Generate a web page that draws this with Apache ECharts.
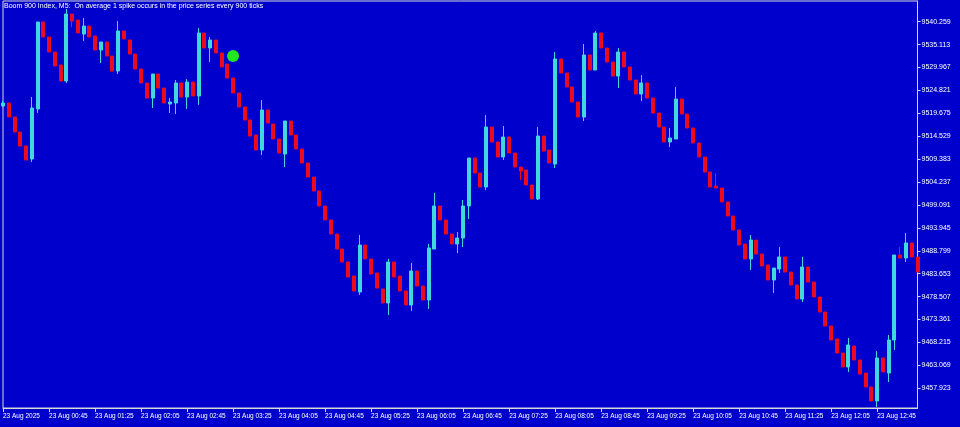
<!DOCTYPE html>
<html>
<head>
<meta charset="utf-8">
<script src="https://cdn.jsdelivr.net/npm/echarts@6/dist/echarts.min.js"></script>
<style>html,body{margin:0;padding:0;background:#0000CD;}#c{width:960px;height:427px;}</style>
</head>
<body>
<div id="c"></div>
<script>
const title = 'Boom 900 Index, M5:  On average 1 spike occurs in the price series every 900 ticks';
const xTickLabels = ['23 Aug 2025','23 Aug 00:45','23 Aug 01:25','23 Aug 02:05','23 Aug 02:45','23 Aug 03:25','23 Aug 04:05','23 Aug 04:45','23 Aug 05:25','23 Aug 06:05','23 Aug 06:45','23 Aug 07:25','23 Aug 08:05','23 Aug 08:45','23 Aug 09:25','23 Aug 10:05','23 Aug 10:45','23 Aug 11:25','23 Aug 12:05','23 Aug 12:45'];
const priceTicks = [9540.259,9535.113,9529.967,9524.821,9519.675,9514.529,9509.383,9504.237,9499.091,9493.945,9488.799,9483.653,9478.507,9473.361,9468.215,9463.069,9457.923];

const opens = [
9521.32,9522.00,9518.85,9515.48,9512.34,9509.42,9520.65,9540.19,9536.82,9533.45,
9530.53,9526.94,9541.99,9540.64,9537.49,9539.29,9537.04,9533.90,9535.70,9532.55,
9529.18,9538.17,9536.15,9533.00,9529.63,9526.49,9523.12,9528.51,9525.36,9521.77,
9522.00,9526.49,9523.34,9526.71,9523.57,9537.72,9534.35,9536.15,9533.23,9530.75,
9527.61,9524.24,9521.10,9518.18,9514.81,9511.44,9520.42,9517.28,9513.91,9510.54,
9517.95,9514.81,9511.66,9508.52,9505.37,9502.23,9498.86,9495.72,9492.57,9489.20,
9486.28,9483.14,9479.54,9490.10,9486.96,9483.81,9480.22,9477.07,9486.28,9483.14,
9479.77,9476.62,9484.26,9480.89,9477.75,9489.20,9498.86,9495.72,9492.57,9490.33,
9491.67,9498.86,9509.64,9506.27,9503.13,9516.60,9513.24,9509.87,9514.36,9510.76,
9507.62,9506.95,9503.58,9500.43,9514.58,9511.44,9508.29,9531.88,9528.73,9525.59,
9522.22,9518.85,9532.78,9529.41,9537.72,9534.35,9531.20,9528.06,9533.45,9530.08,
9527.16,9524.02,9526.49,9523.12,9519.75,9516.60,9513.24,9513.91,9522.89,9519.52,
9516.38,9513.01,9509.87,9506.50,9503.35,9502.90,9499.76,9496.61,9493.47,9490.33,
9486.96,9491.22,9488.08,9485.61,9482.24,9484.71,9487.41,9484.04,9481.12,9477.97,
9485.16,9481.79,9478.42,9475.05,9471.91,9468.99,9465.84,9462.70,9467.41,9464.27,
9461.35,9458.21,9455.06,9464.72,9461.35,9468.76,9487.85,9487.18,9490.55,9487.41];

const closes = [
9522.00,9518.85,9515.48,9512.34,9509.19,9520.87,9540.19,9536.82,9533.45,9530.31,
9526.94,9541.99,9540.41,9537.72,9539.29,9536.82,9533.90,9535.70,9532.55,9529.18,
9538.17,9536.37,9533.00,9529.63,9526.49,9523.12,9528.51,9525.36,9522.00,9522.22,
9526.49,9523.34,9526.71,9523.57,9537.72,9534.35,9536.15,9533.23,9530.08,9527.61,
9524.24,9521.10,9518.18,9514.58,9511.44,9520.42,9517.50,9513.91,9510.76,9517.95,
9514.81,9511.66,9508.52,9505.37,9502.23,9498.86,9495.72,9492.57,9489.20,9486.28,
9482.91,9479.77,9490.10,9486.96,9483.59,9480.44,9477.07,9486.28,9482.91,9479.77,
9476.62,9484.26,9480.89,9477.75,9489.43,9498.86,9495.72,9492.57,9490.33,9491.67,
9498.86,9509.64,9506.27,9503.13,9516.60,9513.24,9509.87,9514.36,9510.76,9507.62,
9506.72,9503.58,9500.43,9514.58,9511.21,9508.52,9531.88,9528.73,9525.59,9522.22,
9518.85,9532.78,9529.41,9537.72,9534.35,9531.20,9528.06,9533.45,9530.08,9527.16,
9524.02,9526.49,9523.12,9519.75,9516.60,9513.24,9514.13,9522.89,9519.52,9516.38,
9513.01,9509.87,9506.50,9503.13,9502.90,9499.76,9496.61,9493.47,9490.10,9486.96,
9491.22,9488.08,9485.38,9482.24,9484.93,9487.41,9484.04,9481.12,9477.97,9485.16,
9481.79,9478.42,9475.05,9471.91,9468.76,9465.84,9462.70,9467.64,9464.27,9461.13,
9458.21,9455.06,9464.72,9461.58,9468.76,9487.85,9487.18,9490.55,9487.41,9484.04];

const highs = [
9522.44,9522.00,9518.85,9515.48,9512.34,9523.34,9540.19,9540.19,9536.82,9533.45,
9530.53,9543.11,9541.99,9540.64,9541.09,9539.29,9537.04,9535.70,9535.70,9532.55,
9540.41,9538.17,9536.15,9533.00,9529.63,9526.49,9528.51,9528.51,9525.36,9523.12,
9527.16,9526.49,9527.39,9526.71,9538.84,9537.72,9536.82,9536.15,9533.23,9530.75,
9527.61,9524.24,9521.10,9518.18,9514.81,9522.67,9520.42,9517.28,9513.91,9517.95,
9517.95,9514.81,9511.66,9508.52,9505.37,9502.23,9498.86,9495.72,9492.57,9489.20,
9486.28,9483.14,9492.35,9490.10,9486.96,9483.81,9480.22,9486.96,9486.28,9483.14,
9479.77,9486.06,9484.26,9480.89,9490.33,9501.78,9498.86,9495.72,9492.57,9493.02,
9500.21,9509.64,9509.64,9506.27,9519.30,9516.60,9513.24,9516.83,9514.36,9510.76,
9507.62,9506.95,9503.58,9516.60,9514.58,9511.44,9533.45,9531.88,9528.73,9525.59,
9522.22,9535.25,9532.78,9538.17,9537.72,9534.35,9531.20,9534.35,9533.45,9530.08,
9527.16,9528.28,9526.49,9523.12,9519.75,9516.60,9516.38,9525.59,9522.89,9519.52,
9516.38,9513.01,9509.87,9506.50,9506.27,9502.90,9499.76,9496.61,9493.47,9490.33,
9492.35,9491.22,9488.08,9485.61,9484.93,9489.65,9487.41,9484.04,9481.12,9487.41,
9485.16,9481.79,9478.42,9475.05,9471.91,9468.99,9465.84,9469.21,9467.41,9464.27,
9461.35,9458.21,9466.29,9464.72,9469.89,9487.85,9489.65,9492.80,9490.55,9487.41];

const lows = [
9521.10,9518.85,9515.48,9512.34,9509.19,9508.74,9519.75,9536.82,9533.45,9530.31,
9526.94,9526.49,9539.07,9537.72,9535.92,9536.82,9533.90,9530.98,9532.55,9529.18,
9528.51,9536.37,9533.00,9529.63,9526.49,9523.12,9520.87,9525.36,9522.00,9519.75,
9519.52,9523.34,9520.65,9523.57,9521.55,9534.35,9531.20,9533.23,9530.08,9527.61,
9524.24,9521.10,9518.18,9514.58,9511.44,9510.32,9517.50,9513.91,9510.76,9507.62,
9514.81,9511.66,9508.52,9505.37,9502.23,9498.86,9495.72,9492.57,9489.20,9486.28,
9482.91,9479.77,9478.87,9486.96,9483.59,9480.44,9477.07,9474.38,9482.91,9479.77,
9476.62,9475.28,9480.89,9477.75,9475.73,9489.20,9495.72,9492.57,9490.33,9488.30,
9489.65,9495.94,9506.27,9503.13,9502.45,9513.24,9509.87,9509.19,9510.76,9507.62,
9504.70,9503.58,9500.43,9500.21,9511.21,9508.52,9507.40,9528.73,9525.59,9522.22,
9518.85,9517.95,9529.41,9529.41,9534.35,9531.20,9528.06,9525.36,9530.08,9527.16,
9524.02,9522.44,9523.12,9519.75,9516.60,9513.24,9512.11,9513.91,9519.52,9516.38,
9513.01,9509.87,9506.50,9503.13,9502.90,9499.76,9496.61,9493.47,9490.10,9486.96,
9484.49,9488.08,9485.38,9482.24,9479.32,9483.81,9484.04,9481.12,9477.97,9477.30,
9481.79,9478.42,9475.05,9471.91,9468.76,9465.84,9462.70,9461.58,9464.27,9461.13,
9458.21,9455.06,9453.71,9461.58,9459.33,9466.52,9487.18,9486.28,9487.41,9484.04];

// spike signal marker (bar index, price)
const signalIndex = [40];
const signalPrice = [9532.55];

// categories: 5-minute bars starting 00:05
const categories = opens.map((_, i) => {
  const m = 5 + 5 * i;
  const hh = String(Math.floor(m / 60)).padStart(2, '0');
  const mm = String(m % 60).padStart(2, '0');
  return '23 Aug ' + hh + ':' + mm;
});
const ohlc = opens.map((o, i) => [o, closes[i], lows[i], highs[i]]);

const BG = '#0000CD', BULL = '#40D8DC', BEAR = '#EC0A1E', FG = '#FFFFFF';
const chart = echarts.init(document.getElementById('c'), null, {renderer: 'canvas'});
chart.setOption({
  backgroundColor: BG,
  animation: false,
  grid: {left: 1.5, right: 42.5, top: 1, bottom: 19, show: true, borderColor: '#D8D8D8', borderWidth: 1, backgroundColor: 'transparent'},
  xAxis: {
    type: 'category', data: categories, boundaryGap: false,
    axisLine: {show: true, lineStyle: {color: '#D8D8D8', width: 1}},
    axisTick: {show: true, interval: 7, length: 4, lineStyle: {color: '#D8D8D8'}},
    axisLabel: {interval: 7, align: 'left', margin: 5, color: FG, fontSize: 6.5, fontFamily: 'Liberation Sans',
      formatter: (v, idx) => xTickLabels[Math.round(idx / 8)] || ''},
    splitLine: {show: false}
  },
  yAxis: {
    type: 'value', position: 'right', scale: true,
    min: 9453.49, max: 9544.91,
    axisLine: {show: true, lineStyle: {color: '#D8D8D8', width: 1}},
    axisTick: {show: true, length: 3, customValues: priceTicks, lineStyle: {color: '#D8D8D8'}},
    axisLabel: {customValues: priceTicks, margin: 4, color: FG, fontSize: 7, fontFamily: 'Liberation Sans',
      formatter: v => v.toFixed(3)},
    splitLine: {show: false}
  },
  graphic: [{type: 'text', left: 4, top: 3, style: {text: title, fill: FG, font: '7px "Liberation Sans"'}}],
  series: [
    {type: 'candlestick', data: ohlc, barWidth: 3.5, clip: true,
     itemStyle: {color: BULL, color0: BEAR, borderColor: BULL, borderColor0: BEAR, borderWidth: 1}},
    {type: 'scatter', data: signalIndex.map((i, k) => [i, signalPrice[k]]), symbolSize: 12,
     itemStyle: {color: '#22E622', opacity: 1}, z: 5}
  ]
});
</script>
</body>
</html>
